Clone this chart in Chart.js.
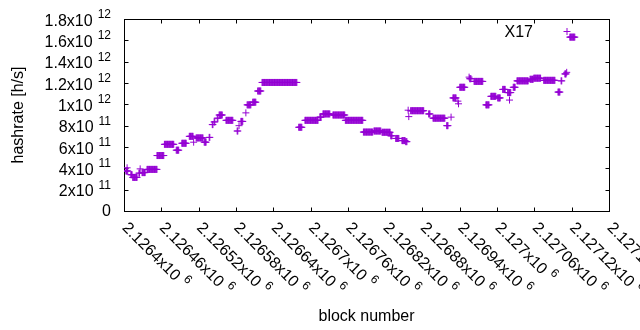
<!DOCTYPE html>
<html>
<head>
<meta charset="utf-8">
<script src="https://cdn.jsdelivr.net/npm/chart.js@4.4.1/dist/chart.umd.min.js"></script>
<style>
html, body { margin: 0; padding: 0; background: #fff; }
#wrap { width: 640px; height: 330px; }
</style>
</head>
<body>
<div id="wrap"><canvas id="chart" width="640" height="330"></canvas></div>
<script>
// ---------------- DATA ----------------
// runs of consecutive blocks that report (about) the same hashrate
const runFirst = [
    2126403, 2126405, 2126411, 2126414, 2126424, 2126426, 2126429, 2126437, 2126453, 2126465,
    2126484, 2126493, 2126505, 2126512, 2126516, 2126529, 2126537, 2126542, 2126545, 2126550,
    2126553, 2126564, 2126582, 2126585, 2126588, 2126596, 2126598, 2126607, 2126615, 2126622,
    2126681, 2126691, 2126715, 2126720, 2126736, 2126756, 2126785, 2126802, 2126815, 2126829,
    2126837, 2126847, 2126853, 2126857, 2126858, 2126861, 2126890, 2126897, 2126919, 2126926,
    2126929, 2126937, 2126938, 2126940, 2126955, 2126956, 2126963, 2126982, 2126990, 2127001,
    2127009, 2127017, 2127020, 2127026, 2127032, 2127053, 2127059, 2127075, 2127098, 2127103,
    2127109, 2127112, 2127117
];
const runLast = [
    2126406, 2126405, 2126413, 2126421, 2126425, 2126426, 2126434, 2126453, 2126464, 2126480,
    2126488, 2126500, 2126511, 2126512, 2126527, 2126532, 2126538, 2126543, 2126546, 2126551,
    2126558, 2126575, 2126583, 2126585, 2126591, 2126596, 2126604, 2126612, 2126620, 2126678,
    2126686, 2126712, 2126717, 2126731, 2126755, 2126784, 2126800, 2126813, 2126828, 2126831,
    2126842, 2126852, 2126855, 2126857, 2126858, 2126882, 2126892, 2126916, 2126921, 2126926,
    2126934, 2126937, 2126938, 2126948, 2126955, 2126958, 2126977, 2126987, 2126998, 2127005,
    2127013, 2127022, 2127020, 2127029, 2127050, 2127058, 2127070, 2127093, 2127101, 2127104,
    2127111, 2127112, 2127125
];
const runRate = [
    3.75e11, 4.05e11, 3.4e11, 3.15e11, 3.55e11, 3.95e11, 3.6e11, 3.9e11, 5.2e11, 6.25e11,
    5.7e11, 6.35e11, 7.0e11, 6.45e11, 6.85e11, 6.45e11, 6.9e11, 8.1e11, 8.35e11, 8.7e11,
    9.0e11, 8.5e11, 7.5e11, 8.0e11, 8.4e11, 9.2e11, 9.95e11, 10.2e11, 11.25e11, 12.05e11,
    7.85e11, 8.5e11, 8.8e11, 9.1e11, 9.0e11, 8.5e11, 7.4e11, 7.5e11, 7.38e11, 7.05e11,
    6.8e11, 6.6e11, 6.5e11, 9.45e11, 8.85e11, 9.4e11, 9.1e11, 8.7e11, 8.0e11, 8.8e11,
    10.6e11, 10.3e11, 10.05e11, 11.6e11, 12.55e11, 12.4e11, 12.15e11, 9.95e11, 10.75e11, 10.6e11,
    11.4e11, 11.1e11, 10.4e11, 11.6e11, 12.2e11, 12.35e11, 12.45e11, 12.25e11, 11.15e11, 12.2e11,
    12.85e11, 13.0e11, 16.3e11
];

const seriesName = 'X17';

const xTicks = [2126400, 2126460, 2126520, 2126580, 2126640, 2126700, 2126760,
                2126820, 2126880, 2126940, 2127000, 2127060, 2127120, 2127180];
const xTickText = ['2.1264', '2.12646', '2.12652', '2.12658', '2.12664', '2.1267', '2.12676',
                   '2.12682', '2.12688', '2.12694', '2.127', '2.12706', '2.12712', '2.12718'];
const xTickExp = ['6', '6', '6', '6', '6', '6', '6', '6', '6', '6', '6', '6', '6', '6'];

const yTicks = [0, 2e11, 4e11, 6e11, 8e11, 1e12, 1.2e12, 1.4e12, 1.6e12, 1.8e12];
const yTickText = ['0', '2', '4', '6', '8', '1', '1.2', '1.4', '1.6', '1.8'];
const yTickExp = ['', '11', '11', '11', '11', '12', '12', '12', '12', '12'];

// ---------------- BUILD ----------------
const points = [];
runFirst.forEach((first, i) => {
    for (let b = first; b <= runLast[i]; b++) points.push({ x: b, y: runRate[i] });
});

const FONT = '"Liberation Sans", Arial, sans-serif';
const MAIN = `16px ${FONT}`;
const SUP = `12px ${FONT}`;
const VIOLET = '#9400d3';

// gnuplot-ish frame, mirrored inward ticks and enhanced-text labels
const gnuplotFrame = {
    id: 'gnuplotFrame',
    beforeDatasetsDraw(chart) {
        const { ctx, chartArea: a, scales: { x, y } } = chart;
        const L = Math.round(a.left) + 0.5, R = Math.round(a.right) + 0.5;
        const T = Math.round(a.top) + 0.5, B = Math.round(a.bottom) + 0.5;
        ctx.save();
        ctx.strokeStyle = '#000';
        ctx.lineWidth = 1;
        ctx.strokeRect(L, T, R - L, B - T);
        ctx.beginPath();
        yTicks.forEach(v => {
            const py = Math.round(y.getPixelForValue(v)) + 0.5;
            ctx.moveTo(L, py); ctx.lineTo(L + 4, py);
            ctx.moveTo(R, py); ctx.lineTo(R - 4, py);
        });
        xTicks.forEach(v => {
            const px = Math.round(x.getPixelForValue(v)) + 0.5;
            ctx.moveTo(px, B); ctx.lineTo(px, B - 4);
            ctx.moveTo(px, T); ctx.lineTo(px, T + 4);
        });
        ctx.stroke();
        ctx.restore();
    },
    afterDraw(chart) {
        const { ctx, chartArea: a, scales: { x, y } } = chart;
        ctx.save();
        ctx.fillStyle = '#000';
        ctx.textBaseline = 'alphabetic';

        // y tick labels, right aligned
        yTickText.forEach((t, i) => {
            const py = y.getPixelForValue(yTicks[i]);
            const right = a.left - 13;
            if (!yTickExp[i]) {
                ctx.font = MAIN;
                ctx.textAlign = 'right';
                ctx.fillText(t, right, py + 5);
                return;
            }
            ctx.font = SUP;
            const supW = ctx.measureText(yTickExp[i]).width;
            ctx.textAlign = 'left';
            ctx.fillText(yTickExp[i], right - supW, py - 1);
            ctx.font = MAIN;
            ctx.textAlign = 'right';
            ctx.fillText(t + 'x10', right - supW - 5, py + 6.5);
        });

        // x tick labels, rotated -45 (running down to the right)
        xTickText.forEach((t, i) => {
            const px = x.getPixelForValue(xTicks[i]);
            ctx.save();
            ctx.translate(px + 2, a.bottom + 13);
            ctx.rotate(Math.PI / 4);
            ctx.textAlign = 'left';
            ctx.font = MAIN;
            const main = t + 'x10';
            const w = ctx.measureText(main).width;
            ctx.fillText(main, 0, 6.5);
            ctx.font = SUP;
            ctx.fillText(xTickExp[i], w + 5, -1);
            ctx.restore();
        });

        // axis titles
        ctx.font = MAIN;
        ctx.textAlign = 'center';
        ctx.fillText('block number', (a.left + a.right) / 2, 321);
        ctx.save();
        ctx.translate(23, (a.top + a.bottom) / 2);
        ctx.rotate(-Math.PI / 2);
        ctx.fillText('hashrate [h/s]', 0, 0);
        ctx.restore();

        // key
        ctx.textAlign = 'right';
        ctx.fillText(seriesName, 533, 37);
        ctx.strokeStyle = VIOLET;
        ctx.lineWidth = 1;
        ctx.beginPath();
        ctx.moveTo(563.5, 31.5); ctx.lineTo(570.5, 31.5);
        ctx.moveTo(567, 28); ctx.lineTo(567, 35);
        ctx.stroke();
        ctx.restore();
    }
};

new Chart(document.getElementById('chart'), {
    type: 'scatter',
    data: {
        datasets: [{
            label: seriesName,
            data: points,
            pointStyle: 'cross',
            pointRadius: 3.5,
            pointHoverRadius: 3.5,
            pointBorderWidth: 1,
            borderColor: VIOLET,
            backgroundColor: VIOLET
        }]
    },
    options: {
        responsive: false,
        animation: false,
        events: [],
        layout: { padding: { left: 124, top: 19, right: 31, bottom: 119 } },
        plugins: { legend: { display: false }, tooltip: { enabled: false } },
        scales: {
            x: { type: 'linear', display: false, min: xTicks[0], max: xTicks[xTicks.length - 1] },
            y: { type: 'linear', display: false, min: yTicks[0], max: yTicks[yTicks.length - 1] }
        }
    },
    plugins: [gnuplotFrame]
});
</script>
</body>
</html>
